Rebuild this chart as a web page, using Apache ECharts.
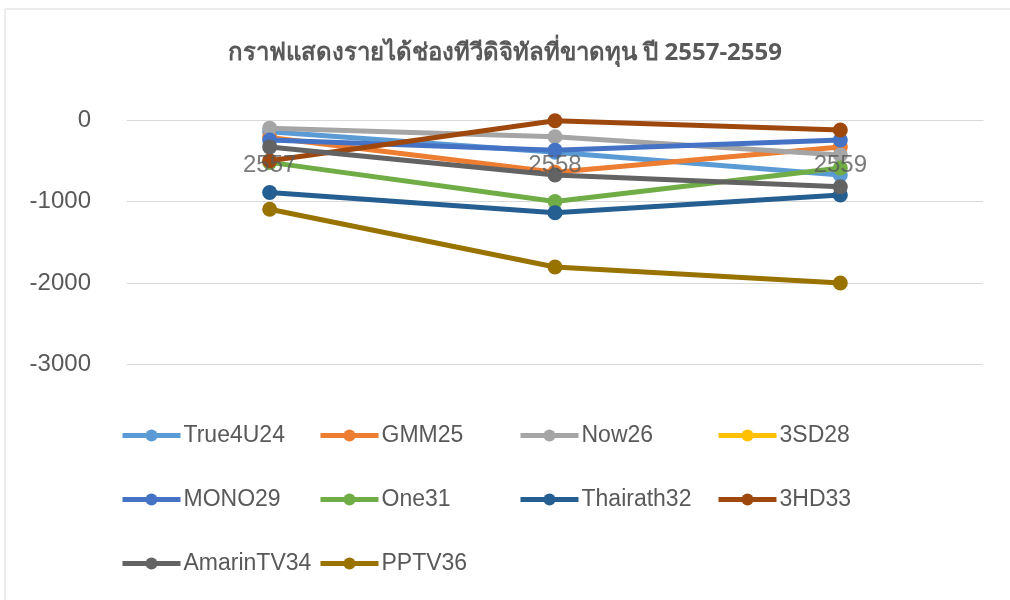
<!DOCTYPE html>
<html>
<head>
<meta charset="utf-8">
<script src="https://cdn.jsdelivr.net/npm/echarts@6/dist/echarts.min.js"></script>
<style>
html,body{margin:0;padding:0;background:#fff;}
#c{width:1010px;height:600px;}
</style>
</head>
<body>
<div id="c"></div>
<script>
const categories = ['2557', '2558', '2559'];
const seriesNames = ['True4U24', 'GMM25', 'Now26', '3SD28', 'MONO29', 'One31', 'Thairath32', '3HD33', 'AmarinTV34', 'PPTV36'];
const True4U24 = [-145, -395, -675];
const GMM25 = [-215, -640, -330];
const Now26 = [-100, -205, -430];
const SD28 = [null, null, null];
const MONO29 = [-245, -370, -245];
const One31 = [-520, -1000, -590];
const Thairath32 = [-890, -1137, -920];
const HD33 = [-500, -10, -123];
const AmarinTV34 = [-330, -675, -820];
const PPTV36 = [-1095, -1804, -2000];
const yTicks = [0, -1000, -2000, -3000];

const values = [True4U24, GMM25, Now26, SD28, MONO29, One31, Thairath32, HD33, AmarinTV34, PPTV36];
const colors = ['#5B9BD5', '#ED7D31', '#A5A5A5', '#FFC000', '#4472C4', '#70AD47', '#255E91', '#9E480E', '#636363', '#997300'];

const font = "'Liberation Sans', Arial, 'Noto Sans', sans-serif";
const colLeft = [120, 318, 518, 716];
const rowTop = [424, 488, 552];

const legends = seriesNames.map((n, i) => ({
  data: [n],
  left: colLeft[i % 4],
  top: rowTop[Math.floor(i / 4)],
  itemWidth: 58,
  itemHeight: 15,
  itemGap: 0,
  padding: 0,
  lineStyle: { width: 5 },
  textStyle: { fontSize: 23, color: '#595959', fontFamily: font, padding: [0, 0, 0, -2] },
  selectedMode: false
}));

const lineSeries = seriesNames.map((n, i) => ({
  name: n,
  type: 'line',
  data: values[i],
  symbol: 'circle',
  symbolSize: 15,
  z: 2,
  lineStyle: { width: 5, color: colors[i] },
  itemStyle: { color: colors[i] },
  emphasis: { disabled: true }
}));

// category labels drawn on top of the lines (as in the reference)
const labelSeries = {
  name: '__catLabels',
  type: 'scatter',
  data: categories.map(c => [c, 0]),
  symbolSize: 1,
  itemStyle: { color: 'rgba(0,0,0,0)' },
  z: 20,
  silent: true,
  label: {
    show: true,
    position: 'inside',
    offset: [0, 45],
    formatter: p => categories[p.dataIndex],
    fontSize: 24,
    color: '#595959',
    fontFamily: font
  },
  emphasis: { disabled: true }
};

const chart = echarts.init(document.getElementById('c'), null, { renderer: 'canvas' });
chart.setOption({
  animation: false,
  color: colors,
  title: {
    text: 'กราฟแสดงรายได้ช่องทีวีดิจิทัลที่ขาดทุน ปี 2557-2559',
    left: 'center',
    top: 36,
    textStyle: { fontSize: 24, fontWeight: 'bold', color: '#595959', fontFamily: "'Noto Sans', 'Noto Sans CJK SC', sans-serif" }
  },
  graphic: [{
    type: 'rect',
    shape: { x: 5, y: 9, width: 1020, height: 620 },
    style: { fill: 'none', stroke: '#d9d9d9', lineWidth: 1 },
    silent: true
  }],
  legend: legends,
  grid: { left: 127, right: 27, top: 120, height: 244.5, containLabel: false },
  xAxis: {
    type: 'category',
    data: categories,
    position: 'top',
    boundaryGap: true,
    axisLine: { onZero: false, lineStyle: { color: '#d9d9d9', width: 1 } },
    axisTick: { show: false },
    axisLabel: { show: false }
  },
  yAxis: {
    type: 'value',
    min: -3000,
    max: 0,
    interval: 1000,
    axisLine: { show: false },
    axisTick: { show: false },
    splitLine: { lineStyle: { color: '#d9d9d9', width: 1 } },
    axisLabel: { fontSize: 24, color: '#595959', fontFamily: font, margin: 36, formatter: v => String(v) }
  },
  series: lineSeries.concat([labelSeries])
});
</script>
</body>
</html>
